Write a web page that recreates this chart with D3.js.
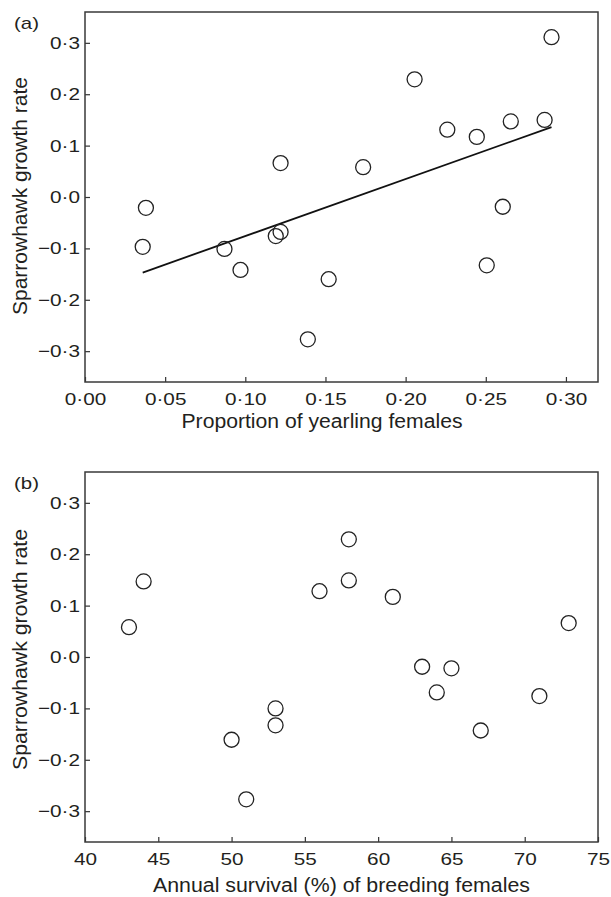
<!DOCTYPE html>
<html>
<head>
<meta charset="utf-8">
<script src="https://cdn.jsdelivr.net/npm/d3@7"></script>
<style>
  body { margin: 0; background: #fff; }
  svg text { font-family: "Liberation Sans", Arial, sans-serif; fill: #231f20; }
</style>
</head>
<body>
<svg id="chart" width="611" height="897"></svg>
<script>
"use strict";

// panel (a): proportion of yearling females vs growth rate
let yearlingProp = [0.036, 0.038, 0.087, 0.097, 0.119, 0.122, 0.122, 0.139, 0.152, 0.1735,
  0.2056, 0.226, 0.2444, 0.2506, 0.2606, 0.2656, 0.2867, 0.291];
let growthA = [-0.097, -0.021, -0.101, -0.142, -0.076, -0.068, 0.066, -0.277, -0.160, 0.058,
  0.229, 0.131, 0.117, -0.133, -0.019, 0.147, 0.150, 0.311];
// fitted regression line ends
let fitX = [0.036, 0.291];
let fitY = [-0.147, 0.136];

// panel (b): annual survival vs growth rate
let survival = [43, 44, 50, 51, 53, 53, 56, 58, 58, 61, 63, 64, 65, 67, 71, 73];
let growthB = [0.058, 0.147, -0.161, -0.277, -0.100, -0.133, 0.128, 0.229, 0.149, 0.117,
  -0.019, -0.069, -0.022, -0.143, -0.076, 0.066];

let growthTicks = [-0.3, -0.2, -0.1, 0.0, 0.1, 0.2, 0.3];
let propTicks = [0, 0.05, 0.10, 0.15, 0.20, 0.25, 0.30];
let survTicks = [40, 45, 50, 55, 60, 65, 70, 75];

let svg = d3.select('svg#chart');
let dims = { left: 85, right: 598, height: 370 };

function dotFormat(fmt) {
  let f = d3.format(fmt);
  return d => f(d).replace('.', '\u00b7');
}

// the printed type is a little wider than Arial, so stretch it sideways
function stretch(sel, factor) {
  sel.each(function() {
    let w = this.getComputedTextLength();
    d3.select(this).attr('textLength', w * factor).attr('lengthAdjust', 'spacingAndGlyphs');
  });
}

function drawPanel(opts) {
  let g = svg.append('g').attr('transform', `translate(0, ${opts.top})`);

  let xScale = d3.scaleLinear().domain(opts.xDomain).range([dims.left, dims.right]);
  let yScale = d3.scaleLinear().domain([-0.36, 0.36]).range([dims.height, 0]);

  /* axes with inward ticks */
  let xAxis = g.append('g')
    .attr('transform', `translate(0, ${dims.height})`)
    .call(d3.axisBottom(xScale).tickValues(opts.xTicks).tickFormat(opts.xFormat)
      .tickSize(-5).tickPadding(10.5));
  let yAxis = g.append('g')
    .attr('transform', `translate(${dims.left}, 0)`)
    .call(d3.axisLeft(yScale).tickValues(growthTicks).tickFormat(dotFormat('.1f'))
      .tickSize(-5).tickPadding(5));
  [xAxis, yAxis].forEach(a => {
    a.select('.domain').remove();
    a.selectAll('line').attr('stroke', '#333').attr('stroke-width', 1.2);
    a.selectAll('text').style('font-size', '17px').attr('fill', '#231f20')
      .call(stretch, 1.22);
  });

  /* frame */
  g.append('rect')
    .attr('x', dims.left).attr('y', 0)
    .attr('width', dims.right - dims.left).attr('height', dims.height)
    .attr('fill', 'none').attr('stroke', '#3a3a3a').attr('stroke-width', 1.5);

  /* regression line */
  if (opts.fitX) {
    g.append('line')
      .attr('x1', xScale(opts.fitX[0])).attr('y1', yScale(opts.fitY[0]))
      .attr('x2', xScale(opts.fitX[1])).attr('y2', yScale(opts.fitY[1]))
      .attr('stroke', '#111').attr('stroke-width', 1.8);
  }

  /* points */
  g.selectAll('circle.pt')
    .data(opts.xs.map((x, i) => [x, opts.ys[i]]))
    .enter()
    .append('circle')
    .attr('class', 'pt')
    .attr('cx', d => xScale(d[0]))
    .attr('cy', d => yScale(d[1]))
    .attr('r', 7.5)
    .attr('fill', 'none')
    .attr('stroke', '#222')
    .attr('stroke-width', 1.3);

  /* labels */
  g.append('text')
    .attr('x', 14).attr('y', 17)
    .style('font-size', '17px')
    .text(opts.tag)
    .call(stretch, 1.2);

  g.append('text')
    .attr('text-anchor', 'middle')
    .attr('transform', `translate(27, ${opts.yLabelMid}) rotate(-90)`)
    .style('font-size', '19.5px')
    .attr('textLength', opts.yLabelLen).attr('lengthAdjust', 'spacingAndGlyphs')
    .text('Sparrowhawk growth rate');

  g.append('text')
    .attr('text-anchor', 'middle')
    .attr('x', opts.xLabelMid)
    .attr('y', dims.height + opts.labelGap)
    .style('font-size', '19.5px')
    .attr('textLength', opts.xLabelLen).attr('lengthAdjust', 'spacingAndGlyphs')
    .text(opts.xLabel);
}

drawPanel({
  top: 12, tag: '(a)', labelGap: 46,
  xDomain: [0, 0.32], xTicks: propTicks, xFormat: dotFormat('.2f'),
  xs: yearlingProp, ys: growthA, fitX: fitX, fitY: fitY,
  xLabel: 'Proportion of yearling females', xLabelMid: 322, xLabelLen: 281,
  yLabelMid: 184, yLabelLen: 238
});

drawPanel({
  top: 472, tag: '(b)', labelGap: 50,
  xDomain: [40, 75], xTicks: survTicks, xFormat: d3.format('d'),
  xs: survival, ys: growthB,
  xLabel: 'Annual survival (%) of breeding females', xLabelMid: 341.5, xLabelLen: 377,
  yLabelMid: 177.5, yLabelLen: 241
});
</script>
</body>
</html>
